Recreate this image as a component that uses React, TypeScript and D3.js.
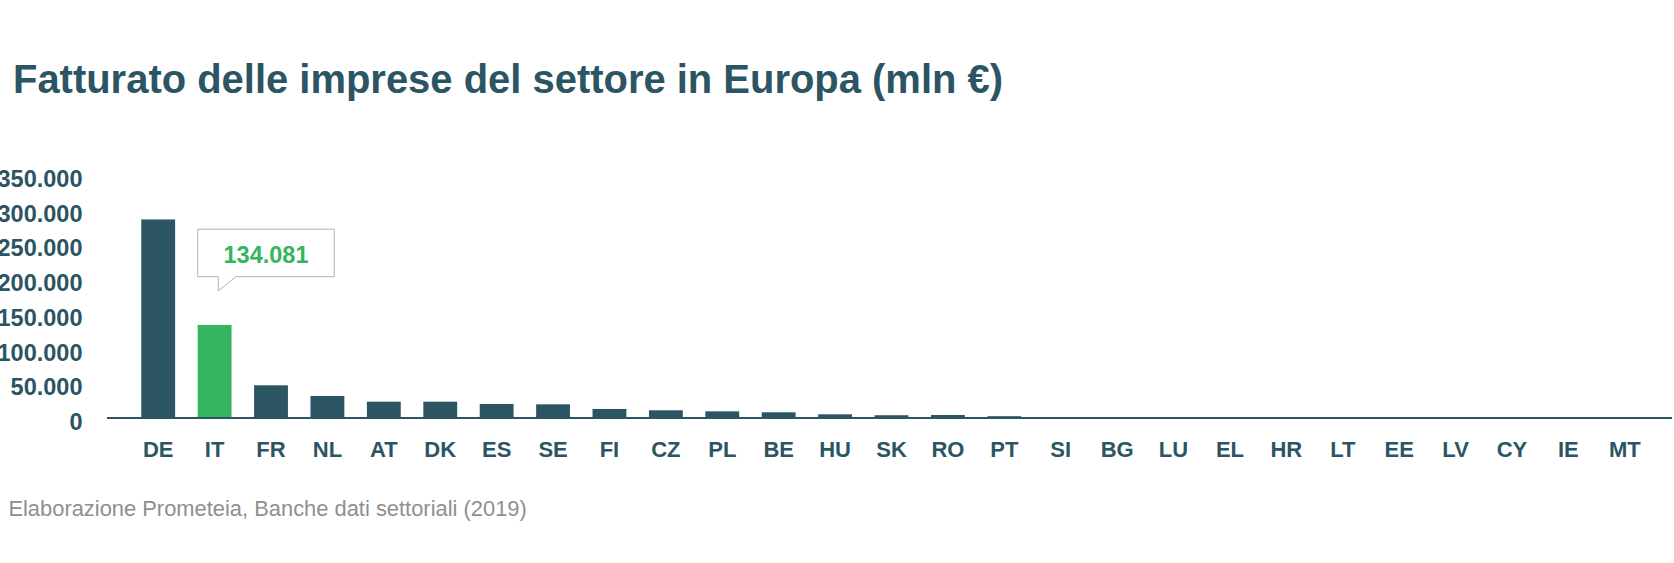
import React from "react";
import * as d3 from "d3";

const categories = ["DE","IT","FR","NL","AT","DK","ES","SE","FI","CZ","PL","BE","HU","SK","RO","PT","SI","BG","LU","EL","HR","LT","EE","LV","CY","IE","MT"];
const values = [286000,134081,47100,31700,23500,23500,20200,19700,13000,11100,9600,8200,5300,4000,4300,2600,900,800,600,600,500,400,300,300,200,200,100];
const yTicks = [0,50000,100000,150000,200000,250000,300000,350000];
const highlight = "IT";
const title = "Fatturato delle imprese del settore in Europa (mln €)";
const source = "Elaborazione Prometeia, Banche dati settoriali (2019)";

const W = 1674;
const H = 563;
const DARK = "#2c5564";
const GREEN = "#34b55f";
const FONT = "'Liberation Sans', Arial, Helvetica, sans-serif";

const it = d3.formatLocale({ decimal: ",", thousands: ".", grouping: [3], currency: ["", "€"] });
const fmt = it.format(",d");

export default function App() {
  const x = d3.scaleBand<string>().domain(categories).range([130, 1653]).paddingInner(0.4).paddingOuter(0.2);
  const y = d3.scaleLinear().domain([0, 350000]).range([418, 175]);
  const bw = x.bandwidth();

  const hiIdx = categories.indexOf(highlight);
  const hiX = x(highlight)!;
  const hiTop = y(values[hiIdx]);
  const tipY = hiTop - 34;
  const boxL = hiX;
  const boxR = hiX + 136.6;
  const boxB = tipY - 14.3;
  const boxT = boxB - 47.4;
  const pL = hiX + 20.6;
  const pR = hiX + 38.3;
  const callout = `M${boxL},${boxT} L${boxR},${boxT} L${boxR},${boxB} L${pR},${boxB} L${pL},${tipY} L${pL},${boxB} L${boxL},${boxB} Z`;

  return (
    <svg width={W} height={H} style={{ position: "absolute", left: 0, top: 0, background: "#fff" }} fontFamily={FONT}>
      <text x={13} y={93} fontSize={40} fontWeight="bold" fill={DARK} textLength={990} lengthAdjust="spacingAndGlyphs">{title}</text>

      {yTicks.map((t) => (
        <text key={t} x={82.5} y={y(t) + 12} textAnchor="end" fontSize={23.5} fontWeight="bold" fill={DARK}>{fmt(t)}</text>
      ))}

      {categories.map((c, i) => (
        <rect key={c} x={x(c)} y={y(values[i])} width={bw} height={y(0) - y(values[i])} fill={c === highlight ? GREEN : DARK} />
      ))}

      <line x1={107} x2={1672} y1={y(0)} y2={y(0)} stroke={DARK} strokeWidth={2} />

      {categories.map((c) => (
        <text key={c} x={x(c)! + bw / 2} y={456.5} textAnchor="middle" fontSize={22} fontWeight="bold" fill={DARK}>{c}</text>
      ))}

      <path d={callout} fill="#fff" stroke="#b5b5b5" strokeWidth={1} />
      <text x={(boxL + boxR) / 2} y={boxB - 14} textAnchor="middle" fontSize={23.5} fontWeight="bold" fill={GREEN}>{fmt(values[hiIdx])}</text>

      <text x={8.4} y={515.5} fontSize={21.9} fill="#8f8f8f">{source}</text>
    </svg>
  );
}
